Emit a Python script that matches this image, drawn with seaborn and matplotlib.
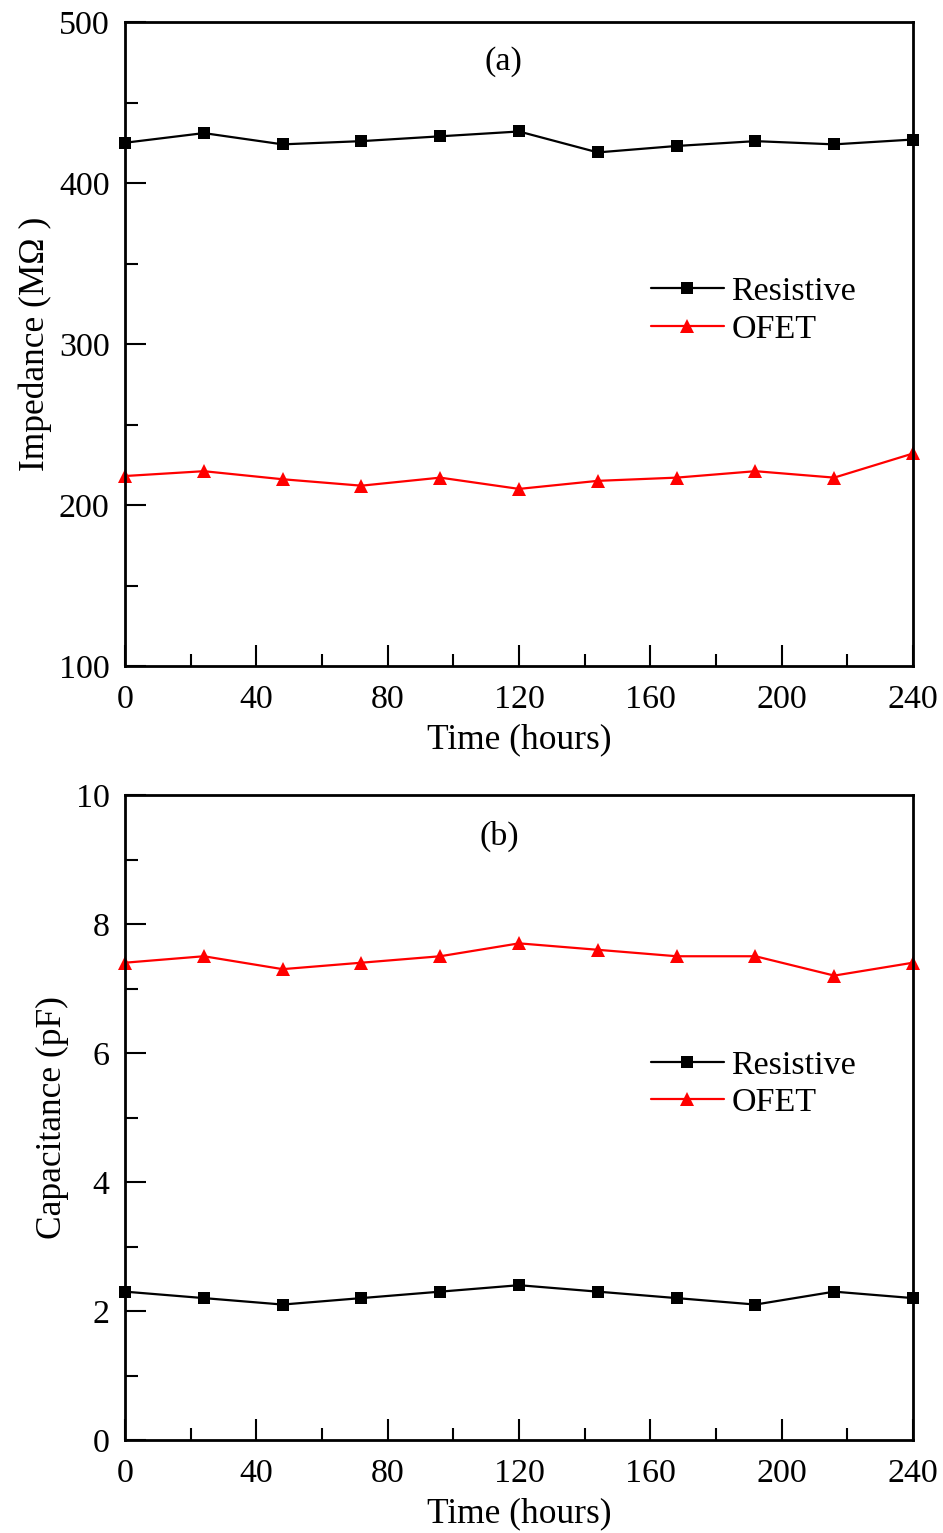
import matplotlib
matplotlib.use("Agg")
import matplotlib.pyplot as plt
import seaborn as sns
import pandas as pd
from matplotlib.ticker import MultipleLocator

time_h = [0, 24, 48, 72, 96, 120, 144, 168, 192, 216, 240]
imp_resistive = [425, 431, 424, 426, 429, 432, 419, 423, 426, 424, 427]
imp_ofet = [218, 221, 216, 212, 217, 210, 215, 217, 221, 217, 232]
cap_resistive = [2.3, 2.2, 2.1, 2.2, 2.3, 2.4, 2.3, 2.2, 2.1, 2.3, 2.2]
cap_ofet = [7.4, 7.5, 7.3, 7.4, 7.5, 7.7, 7.6, 7.5, 7.5, 7.2, 7.4]
series_names = ["Resistive", "OFET"]
x_ticks = [0, 40, 80, 120, 160, 200, 240]

sns.set_theme(style="ticks")
plt.rcParams['font.family'] = ['Liberation Serif', 'DejaVu Serif']
plt.rcParams['text.color'] = 'black'
plt.rcParams['axes.labelcolor'] = 'black'
plt.rcParams['xtick.color'] = 'black'
plt.rcParams['ytick.color'] = 'black'
plt.rcParams['axes.edgecolor'] = 'black'

fig = plt.figure(figsize=(9.43, 15.33), dpi=100)
L, R = 125/943, 913/943
ax1 = fig.add_axes([L, 1-666/1533, R-L, (666-22)/1533])
ax2 = fig.add_axes([L, 1-1440/1533, R-L, (1440-795)/1533])

def draw(ax, res, ofet, ylim, ymaj, ymin, ylabel, tag, tagx, tagy):
    df = pd.DataFrame({"t": time_h * 2,
                       "v": res + ofet,
                       "s": [series_names[0]]*len(time_h) + [series_names[1]]*len(time_h)})
    sns.lineplot(data=df, x="t", y="v", hue="s", style="s",
                 palette={"Resistive": "black", "OFET": "#ff0000"},
                 markers={"Resistive": "s", "OFET": "^"},
                 dashes=False, linewidth=1.6, markersize=9, markeredgewidth=0,
                 ax=ax, clip_on=False)
    for line in ax.get_lines():
        if line.get_marker() == "s":
            line.set_markersize(8)
        elif line.get_marker() == "^":
            line.set_markersize(10.5)
    ax.set_xlim(0, 240)
    ax.set_ylim(*ylim)
    ax.set_xticks(x_ticks)
    ax.xaxis.set_minor_locator(MultipleLocator(20))
    ax.yaxis.set_major_locator(MultipleLocator(ymaj))
    ax.yaxis.set_minor_locator(MultipleLocator(ymin))
    ax.tick_params(axis="both", which="both", direction="in", labelsize=24.5,
                   width=1.5, color="black", labelcolor="black", top=False, right=False)
    ax.tick_params(axis="x", which="major", length=15, pad=13)
    ax.tick_params(axis="y", which="major", length=15, pad=11)
    ax.tick_params(axis="both", which="minor", length=9)
    for sp in ax.spines.values():
        sp.set_visible(True)
        sp.set_linewidth(2)
        sp.set_color("black")
    ax.set_xlabel("Time (hours)", fontsize=25.5, labelpad=6)
    ax.set_ylabel(ylabel, fontsize=25.5, labelpad=5)
    ax.text(tagx, tagy, tag, transform=ax.transAxes, ha="center", va="center", fontsize=24.5)
    h, l = ax.get_legend_handles_labels()
    leg = ax.legend(h, l, loc="upper left", bbox_to_anchor=(0.667, 0.605), frameon=False,
                    fontsize=24.5, handlelength=2.15, handletextpad=0.22, labelspacing=0.2,
                    borderpad=0, borderaxespad=0)
    for lh in leg.get_lines():
        lh.set_linewidth(1.6)

draw(ax1, imp_resistive, imp_ofet, (100, 500), 100, 50, "Impedance (MΩ )", "(a)", 0.48, 0.938)
draw(ax2, cap_resistive, cap_ofet, (0, 10), 2, 1, "Capacitance (pF)", "(b)", 0.475, 0.936)

fig.savefig("out.png", dpi=100)
